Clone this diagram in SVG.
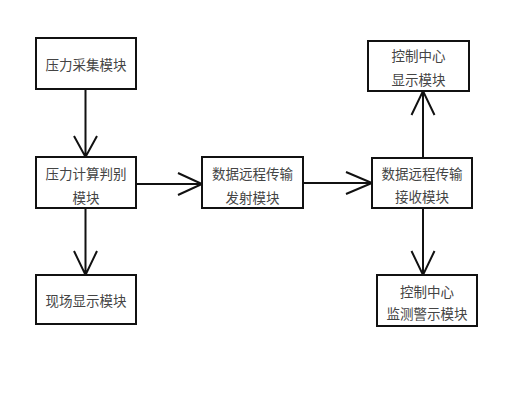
<svg xmlns="http://www.w3.org/2000/svg" width="514" height="410" viewBox="0 0 514 410">
<style>
.box{fill:#fff;stroke:#111;stroke-width:2}
.t{font-family:"Noto Sans CJK SC","Noto Sans CJK JP",sans-serif;font-size:13.5px;fill:#444;text-anchor:middle;dominant-baseline:central}
.c{stroke:#111;stroke-width:2;fill:none}
</style>
<rect width="514" height="410" fill="#fff"/>
<g id="connectors">
<path class="c" d="M85.5 89V157M74 136L85.5 157L97 136"/>
<path class="c" d="M136 184H202M178 173L202 184L178 195"/>
<path class="c" d="M303 183H372M346 172L372 183L346 194"/>
<path class="c" d="M423 158V91M411.5 115L423 91L434.5 115"/>
<path class="c" d="M85.5 208V275M74 251L85.5 275L97 251"/>
<path class="c" d="M423 208V275M411.5 251L423 275L434.5 251"/>
</g>
<g id="n1"><rect class="box" x="36" y="38" width="100" height="51"/><text class="t" x="86" y="64">压力采集模块</text></g>
<g id="n2"><rect class="box" x="36" y="157" width="100" height="51"/><text class="t" x="86" y="173">压力计算判别</text><text class="t" x="86" y="197">模块</text></g>
<g id="n3"><rect class="box" x="202" y="157" width="101" height="51"/><text class="t" x="252.5" y="173">数据远程传输</text><text class="t" x="252.5" y="197">发射模块</text></g>
<g id="n4"><rect class="box" x="372" y="158" width="100" height="50"/><text class="t" x="422" y="173">数据远程传输</text><text class="t" x="422" y="196">接收模块</text></g>
<g id="n5"><rect class="box" x="368" y="41" width="101" height="50"/><text class="t" x="418.5" y="55">控制中心</text><text class="t" x="418.5" y="79">显示模块</text></g>
<g id="n6"><rect class="box" x="36" y="275" width="100" height="49"/><text class="t" x="86" y="300">现场显示模块</text></g>
<g id="n7"><rect class="box" x="377" y="275" width="100" height="51"/><text class="t" x="427" y="291">控制中心</text><text class="t" x="427" y="313">监测警示模块</text></g>
</svg>
